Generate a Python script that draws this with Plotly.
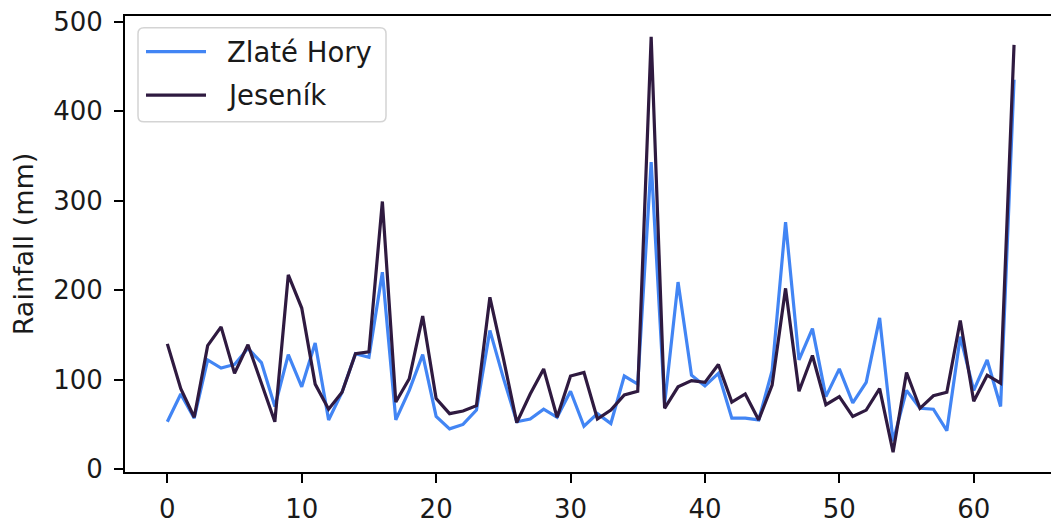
import plotly.graph_objects as go

months = list(range(64))

zlate_hory = [53, 84, 57, 122, 113, 117, 135, 119, 70, 128,
              92, 141, 55, 86, 129, 125, 220, 55, 88, 128,
              59, 45, 50, 66, 155, 102, 53, 56, 67, 58,
              87, 48, 62, 51, 104, 95, 343, 73, 209, 105,
              93, 107, 57, 57, 55, 110, 276, 122, 157, 81,
              112, 74, 97, 169, 31, 88, 68, 67, 43, 148,
              88, 122, 70, 435]

jesenik = [140, 90, 58, 138, 159, 107, 139, 95, 53, 217,
           180, 95, 67, 86, 129, 131, 299, 75, 101, 171,
           79, 62, 65, 71, 192, 124, 52, 84, 112, 58,
           104, 108, 56, 66, 83, 87, 483, 68, 92, 99,
           97, 117, 75, 84, 55, 94, 202, 87, 127, 72,
           81, 59, 66, 90, 19, 108, 68, 82, 86, 166,
           76, 105, 96, 474]

series_names = ["Zlaté Hory", "Jeseník"]
series_colors = ["#4285f4", "#2f1a40"]

FONT = "DejaVu Sans"
TXT = "#1a1a1a"

W, H = 1051, 524
ML, MR, MT, MB = 125, 0, 16, 47
PW, PH = W - ML - MR, H - MT - MB


def px(xp):
    return (xp - ML) / PW


def py(yp):
    return (H - MB - yp) / PH


fig = go.Figure()
for name, vals, col in zip(series_names, [zlate_hory, jesenik], series_colors):
    fig.add_trace(go.Scatter(x=months, y=vals, mode="lines", name=name,
                             line=dict(color=col, width=3.2), showlegend=False))

axis_common = dict(showline=True, linecolor="black", linewidth=2,
                   ticks="outside", ticklen=9, tickwidth=2, tickcolor="black",
                   showgrid=False, zeroline=False,
                   tickfont=dict(family=FONT, size=26, color=TXT))

# legend box (drawn in paper space, rounded corners)
x0, x1, y0, y1 = px(138), px(386), py(123), py(28)
rx, ry = 6 / PW, 6 / PH
path = (f"M{x0+rx},{y0} L{x1-rx},{y0} Q{x1},{y0} {x1},{y0+ry} "
        f"L{x1},{y1-ry} Q{x1},{y1} {x1-rx},{y1} L{x0+rx},{y1} "
        f"Q{x0},{y1} {x0},{y1-ry} L{x0},{y0+ry} Q{x0},{y0} {x0+rx},{y0} Z")
shapes = [dict(type="path", xref="paper", yref="paper", path=path,
               fillcolor="rgba(255,255,255,0.85)", line=dict(color="#d4d4d4", width=1.5),
               layer="above")]
annotations = []
for i, (name, col) in enumerate(zip(series_names, series_colors)):
    yc = py(52 + 44 * i)
    shapes.append(dict(type="line", xref="paper", yref="paper",
                       x0=px(146), x1=px(206), y0=yc, y1=yc,
                       line=dict(color=col, width=3.2), layer="above"))
    annotations.append(dict(xref="paper", yref="paper", x=px(225), y=yc,
                            xanchor="left", yanchor="middle", text=name,
                            showarrow=False,
                            font=dict(family=FONT, size=27.5, color=TXT)))

fig.update_layout(
    width=W, height=H,
    margin=dict(l=ML, r=MR, t=MT, b=MB),
    plot_bgcolor="white", paper_bgcolor="white",
    xaxis=dict(range=[-3.15, 65.75], tickvals=[0, 10, 20, 30, 40, 50, 60],
               mirror=True, ticklabelstandoff=4, **axis_common),
    yaxis=dict(range=[-3.15, 506.2], tickvals=[0, 100, 200, 300, 400, 500],
               title=dict(text="Rainfall (mm)", font=dict(family=FONT, size=27, color=TXT),
                          standoff=12),
               ticklabelstandoff=6, **axis_common),
    shapes=shapes,
    annotations=annotations,
    showlegend=False,
)

fig.write_html("out.html")
